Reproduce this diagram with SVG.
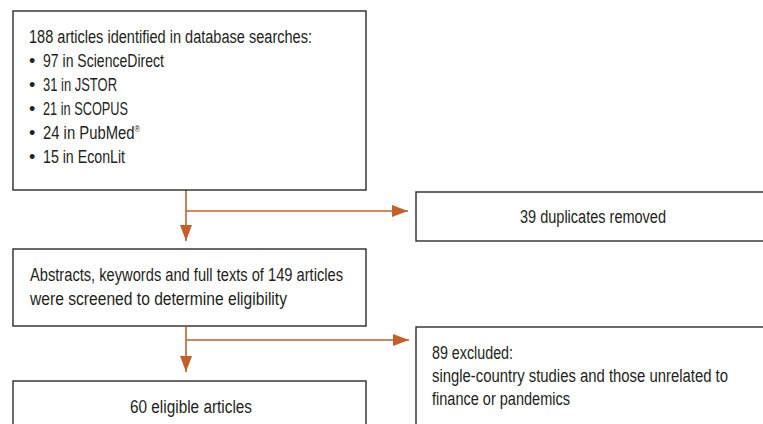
<svg xmlns="http://www.w3.org/2000/svg" width="763" height="424" viewBox="0 0 763 424">
<style>
.box{fill:#ffffff;stroke:#2b2b2b;stroke-width:1.4}
.t{font-family:"Liberation Sans",Arial,sans-serif;font-size:18px;fill:#231f20}
.c{stroke:#c55f2a;stroke-width:1.6;fill:none}
</style>
<defs>
<marker id="ah" markerUnits="userSpaceOnUse" markerWidth="16" markerHeight="12" refX="16" refY="6" orient="auto">
<path d="M0,0 L16,6 L0,12 Z" fill="#c55f2a"/>
</marker>
</defs>
<rect width="763" height="424" fill="#ffffff"/>
<g id="connectors">
<path class="c" d="M186,190 V241" marker-end="url(#ah)"/>
<path class="c" d="M186,211 H408" marker-end="url(#ah)"/>
<path class="c" d="M186,327 V372" marker-end="url(#ah)"/>
<path class="c" d="M186,340 H409" marker-end="url(#ah)"/>
</g>
<g id="n1">
<rect class="box" x="13" y="11" width="353" height="179"/>
<text class="t" x="29" y="43" textLength="283" lengthAdjust="spacingAndGlyphs">188 articles identified in database searches:</text>
<text class="t" x="29" y="67">•</text>
<text class="t" x="43" y="67" textLength="121" lengthAdjust="spacingAndGlyphs">97 in ScienceDirect</text>
<text class="t" x="29" y="91">•</text>
<text class="t" x="43" y="91" textLength="74" lengthAdjust="spacingAndGlyphs">31 in JSTOR</text>
<text class="t" x="29" y="115">•</text>
<text class="t" x="43" y="115" textLength="85" lengthAdjust="spacingAndGlyphs">21 in SCOPUS</text>
<text class="t" x="29" y="139">•</text>
<text class="t" x="43" y="139" textLength="97" lengthAdjust="spacingAndGlyphs">24 in PubMed<tspan dy="-7" style="font-size:9px">®</tspan></text>
<text class="t" x="29" y="163">•</text>
<text class="t" x="43" y="163" textLength="82" lengthAdjust="spacingAndGlyphs">15 in EconLit</text>
</g>
<g id="n2">
<rect class="box" x="416" y="192" width="354" height="49"/>
<text class="t" x="520" y="223" textLength="146" lengthAdjust="spacingAndGlyphs">39 duplicates removed</text>
</g>
<g id="n3">
<rect class="box" x="13" y="249" width="353" height="77"/>
<text class="t" x="30" y="281" textLength="313" lengthAdjust="spacingAndGlyphs">Abstracts, keywords and full texts of 149 articles</text>
<text class="t" x="30" y="305" textLength="257" lengthAdjust="spacingAndGlyphs">were screened to determine eligibility</text>
</g>
<g id="n4">
<rect class="box" x="416" y="327" width="354" height="120"/>
<text class="t" x="432" y="359" textLength="81" lengthAdjust="spacingAndGlyphs">89 excluded:</text>
<text class="t" x="432" y="382" textLength="296" lengthAdjust="spacingAndGlyphs">single-country studies and those unrelated to</text>
<text class="t" x="432" y="405" textLength="138" lengthAdjust="spacingAndGlyphs">finance or pandemics</text>
</g>
<g id="n5">
<rect class="box" x="13" y="381" width="353" height="60"/>
<text class="t" x="130" y="413" textLength="122" lengthAdjust="spacingAndGlyphs">60 eligible articles</text>
</g>
</svg>
